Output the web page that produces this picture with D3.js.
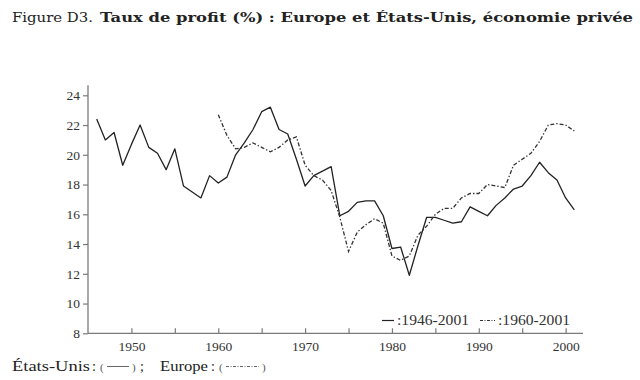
<!DOCTYPE html>
<html>
<head>
<meta charset="utf-8">
<script src="https://cdn.jsdelivr.net/npm/d3@7/dist/d3.min.js"></script>
<style>
  html, body { margin: 0; padding: 0; background: #fff; }
  svg { display: block; }
  text { font-family: "Liberation Serif", "DejaVu Serif", serif; }
</style>
</head>
<body>
<svg id="chart" width="640" height="380"></svg>
<script>
// ---- data ----
const usYears = d3.range(1946, 2002);
const usValues = [22.4, 21.0, 21.5, 19.3, 20.7, 22.0, 20.5, 20.1, 19.0, 20.4,
                  17.9, 17.5, 17.1, 18.6, 18.1, 18.5, 20.0, 20.8, 21.7, 22.9,
                  23.2, 21.7, 21.4, 19.7, 17.9, 18.6, 18.9, 19.2, 15.9, 16.2,
                  16.8, 16.9, 16.9, 15.9, 13.7, 13.8, 11.9, 13.9, 15.8, 15.8,
                  15.6, 15.4, 15.5, 16.5, 16.2, 15.9, 16.6, 17.1, 17.7, 17.9,
                  18.6, 19.5, 18.8, 18.3, 17.1, 16.3];
const euYears = d3.range(1960, 2002);
const euValues = [22.7, 21.3, 20.4, 20.5, 20.8, 20.5, 20.2, 20.5, 21.0, 21.2,
                  19.3, 18.6, 18.3, 17.6, 15.8, 13.5, 14.8, 15.3, 15.7, 15.4,
                  13.2, 12.9, 13.2, 14.6, 15.2, 16.0, 16.4, 16.4, 17.1, 17.4,
                  17.4, 18.0, 17.9, 17.8, 19.3, 19.7, 20.1, 20.9, 22.0, 22.1,
                  22.0, 21.6];
const yTicks = [8, 10, 12, 14, 16, 18, 20, 22, 24];
const xTicks = d3.range(1950, 2001, 5);
const xLabelYears = [1950, 1960, 1970, 1980, 1990, 2000];
const titlePlain = "Figure D3.";
const titleBold = "Taux de profit (%) : Europe et États-Unis, économie privée";
const legendLabels = [":1946-2001", ":1960-2001"];
const captionUS = "États-Unis";
const captionEU = "Europe";

// ---- layout ----
const svg = d3.select("#chart");
const x = d3.scaleLinear().domain([1945, 2002]).range([88, 583]);
const y = d3.scaleLinear().domain([8, 24]).range([333.3, 95.3]);
const axisColor = "#7a7a7a";
const textColor = "#333";
const lineColor = "#222";
const euDash = "4,2,1.4,2";
const serifWide = "'DejaVu Serif', serif";

// title
svg.append("text").attr("x", 12).attr("y", 22)
  .attr("fill", "#222").style("font-family", serifWide).style("font-size", "13.5px")
  .attr("textLength", 81).attr("lengthAdjust", "spacingAndGlyphs")
  .text(titlePlain);
svg.append("text").attr("x", 100).attr("y", 22)
  .attr("fill", "#222").style("font-family", serifWide).style("font-size", "13.5px")
  .attr("font-weight", "bold")
  .attr("textLength", 533).attr("lengthAdjust", "spacingAndGlyphs")
  .text(titleBold);

// y axis
const yAxis = d3.axisLeft(y).tickValues(yTicks).tickSize(5).tickSizeOuter(0).tickPadding(3);
const gy = svg.append("g").attr("transform", `translate(${x(1945)},0)`).call(yAxis);
gy.select(".domain").remove();
gy.selectAll(".tick line").attr("stroke", axisColor).attr("stroke-width", 1.2);
gy.selectAll(".tick text").attr("fill", textColor).style("font-size", "13.5px")
  .style("font-family", "'Liberation Serif', serif");
svg.append("line")
  .attr("x1", x(1945)).attr("x2", x(1945))
  .attr("y1", y(8)).attr("y2", y(24) - 10)
  .attr("stroke", axisColor).attr("stroke-width", 1.3);

// x axis
const xAxis = d3.axisBottom(x).tickValues(xTicks).tickSize(-5).tickSizeOuter(0).tickPadding(8)
  .tickFormat(d => xLabelYears.includes(d) ? String(d) : "");
const gx = svg.append("g").attr("transform", `translate(0,${y(8)})`).call(xAxis);
gx.select(".domain").remove();
gx.selectAll(".tick line").attr("stroke", axisColor).attr("stroke-width", 1.2);
gx.selectAll(".tick text").attr("fill", textColor).style("font-size", "13.5px")
  .style("font-family", "'Liberation Serif', serif");
svg.append("line")
  .attr("x1", x(1945)).attr("x2", x(2002))
  .attr("y1", y(8)).attr("y2", y(8))
  .attr("stroke", axisColor).attr("stroke-width", 1.3);

// lines
const line = d3.line().x(d => x(d[0])).y(d => y(d[1]));
svg.append("path").datum(d3.zip(usYears, usValues))
  .attr("d", line).attr("fill", "none")
  .attr("stroke", lineColor).attr("stroke-width", 1.3).attr("stroke-linejoin", "round");
svg.append("path").datum(d3.zip(euYears, euValues))
  .attr("d", line).attr("fill", "none")
  .attr("stroke", "#333").attr("stroke-width", 1.3).attr("stroke-dasharray", euDash);

// in-plot legend
const lg = svg.append("g");
lg.append("line").attr("x1", 382).attr("x2", 394).attr("y1", 320.5).attr("y2", 320.5)
  .attr("stroke", lineColor).attr("stroke-width", 1.2);
lg.append("text").attr("x", 397).attr("y", 325).attr("fill", textColor)
  .style("font-size", "14px").attr("textLength", 72).attr("lengthAdjust", "spacingAndGlyphs")
  .text(legendLabels[0]);
lg.append("line").attr("x1", 480).attr("x2", 495).attr("y1", 320.5).attr("y2", 320.5)
  .attr("stroke", "#333").attr("stroke-width", 1.1).attr("stroke-dasharray", "3,1.5,1,1.5");
lg.append("text").attr("x", 498).attr("y", 325).attr("fill", textColor)
  .style("font-size", "14px").attr("textLength", 72).attr("lengthAdjust", "spacingAndGlyphs")
  .text(legendLabels[1]);

// bottom caption
const capY = 371;
const cap = svg.append("g").attr("fill", "#222").style("font-family", serifWide);
cap.append("text").attr("x", 12).attr("y", capY).style("font-size", "14px")
  .attr("textLength", 78).attr("lengthAdjust", "spacingAndGlyphs").text(captionUS);
const small = (xx, t) => cap.append("text").attr("x", xx).attr("y", capY).attr("fill", "#555")
    .style("font-size", "11px").text(t);
cap.append("text").attr("x", 92).attr("y", capY).style("font-size", "14px").text(":");
small(100, "(");
cap.append("line").attr("x1", 107).attr("x2", 129).attr("y1", capY - 4.5).attr("y2", capY - 4.5)
  .attr("stroke", "#555").attr("stroke-width", 0.9);
small(132, ")");
cap.append("text").attr("x", 140).attr("y", capY).style("font-size", "14px").text(";");
cap.append("text").attr("x", 160).attr("y", capY).style("font-size", "14px")
  .attr("textLength", 48).attr("lengthAdjust", "spacingAndGlyphs").text(captionEU);
cap.append("text").attr("x", 211).attr("y", capY).style("font-size", "14px").text(":");
small(219, "(");
cap.append("line").attr("x1", 226).attr("x2", 259).attr("y1", capY - 4.5).attr("y2", capY - 4.5)
  .attr("stroke", "#555").attr("stroke-width", 0.9).attr("stroke-dasharray", "3,1.5,1,1.5");
small(262, ")");
</script>
</body>
</html>
